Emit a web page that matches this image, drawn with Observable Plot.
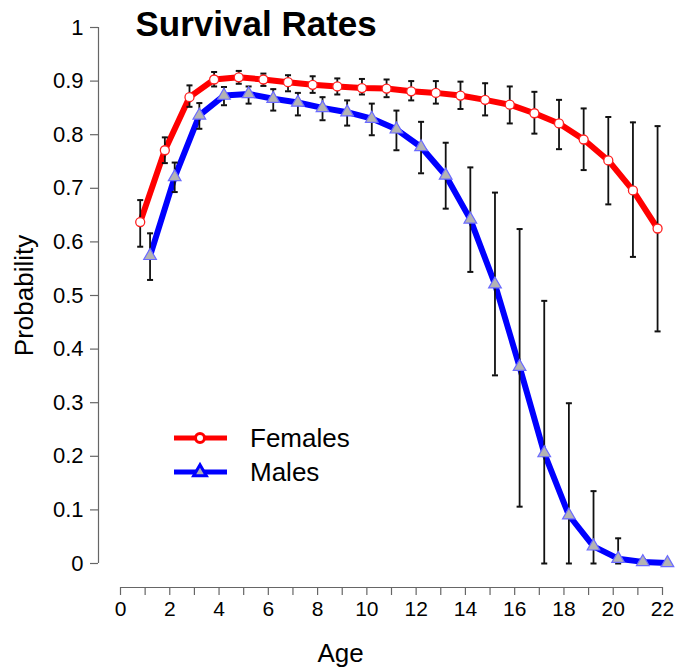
<!DOCTYPE html>
<html>
<head>
<meta charset="utf-8">
<script src="https://cdn.jsdelivr.net/npm/d3@7"></script>
<script src="https://cdn.jsdelivr.net/npm/@observablehq/plot@0.6"></script>
<style>
  html, body { margin: 0; padding: 0; background: #fff; }
  #chart svg { display: block; font-family: "Liberation Sans", Arial, sans-serif; }
</style>
</head>
<body>
<div id="chart"></div>
<script>
// ---- Data ----
const ages = [1,2,3,4,5,6,7,8,9,10,11,12,13,14,15,16,17,18,19,20,21,22];
const female   = [0.637,0.771,0.870,0.903,0.907,0.903,0.898,0.893,0.890,0.887,0.886,0.881,0.878,0.873,0.865,0.856,0.840,0.821,0.791,0.752,0.696,0.625];
const femaleLo = [0.591,0.747,0.852,0.890,0.895,0.891,0.881,0.878,0.875,0.875,0.870,0.864,0.858,0.848,0.836,0.821,0.802,0.773,0.734,0.670,0.572,0.433];
const femaleHi = [0.678,0.795,0.892,0.917,0.919,0.914,0.911,0.909,0.905,0.904,0.903,0.900,0.900,0.899,0.896,0.890,0.880,0.865,0.849,0.833,0.823,0.816];
const male     = [0.574,0.721,0.836,0.873,0.876,0.867,0.860,0.850,0.842,0.830,0.810,0.777,0.724,0.642,0.521,0.367,0.206,0.090,0.032,0.009,0.003,0.001];
const maleLo   = [0.529,0.693,0.811,0.855,0.858,0.845,0.836,0.827,0.817,0.799,0.771,0.728,0.662,0.544,0.351,0.106,0.000,0.000,0.000,0.000,0.000,0.000];
const maleHi   = [0.616,0.748,0.859,0.889,0.890,0.885,0.878,0.870,0.864,0.858,0.845,0.824,0.785,0.739,0.692,0.624,0.490,0.299,0.135,0.047,0.008,0.003];
const xTicks = [0,1,2,3,4,5,6,7,8,9,10,11,12,13,14,15,16,17,18,19,20,21,22];
const yTicks = [0,0.1,0.2,0.3,0.4,0.5,0.6,0.7,0.8,0.9,1];
const seriesNames = ["Females", "Males"];
const titleText = "Survival Rates";

// side-by-side offset of the two series around each age
const offset = 0.2;
const fData = ages.map((a, i) => ({x: a - offset, y: female[i], lo: femaleLo[i], hi: femaleHi[i]}));
const mData = ages.map((a, i) => ({x: a + offset, y: male[i], lo: maleLo[i], hi: maleHi[i]}));
const allData = fData.concat(mData);

const capSymbol = { draw(ctx, size) { const w = Math.sqrt(size); ctx.moveTo(-w/2, 0); ctx.lineTo(w/2, 0); } };

const FONT = "Liberation Sans, Arial, sans-serif";
const plot = Plot.plot({
  width: 675,
  height: 668,
  marginLeft: 120,
  marginRight: 13,
  marginTop: 27,
  marginBottom: 105,
  style: {fontFamily: FONT, color: "black", background: "white", overflow: "visible"},
  x: {domain: [0, 22]},
  y: {domain: [0, 1]},
  marks: [
    // axes
    Plot.ruleX([0], {y1: 0, y2: 1, dx: -22, stroke: "#666", strokeWidth: 1.2}),
    Plot.axisY({ticks: yTicks, tickFormat: d => d3.format("~g")(d), dx: -22, tickSize: 8, tickPadding: 7, fontSize: 22, stroke: "#666", strokeWidth: 1.2, label: null}),
    Plot.ruleY([0], {x1: 0, x2: 22, dy: 24, stroke: "#666", strokeWidth: 1.2}),
    Plot.axisX({ticks: xTicks, tickFormat: d => d % 2 ? "" : String(d), dy: 24, tickSize: 8, tickPadding: 6, fontSize: 21, stroke: "#666", strokeWidth: 1.2, label: null}),
    Plot.text(["Probability"], {frameAnchor: "left", textAnchor: "middle", dx: -96, rotate: -90, fontSize: 26}),
    Plot.text(["Age"], {frameAnchor: "bottom", textAnchor: "middle", dx: -51, dy: 98, fontSize: 26}),
    Plot.text([titleText], {frameAnchor: "top-left", textAnchor: "start", lineAnchor: "top", dx: 15, dy: -16, fontSize: 35, fontWeight: "bold"}),
    // series lines
    Plot.line(fData, {x: "x", y: "y", stroke: "#ff0000", strokeWidth: 6}),
    Plot.line(mData, {x: "x", y: "y", stroke: "#0000ff", strokeWidth: 6}),
    // error bars
    Plot.ruleX(allData, {x: "x", y1: "lo", y2: "hi", stroke: "#111", strokeWidth: 1.8}),
    Plot.dot(allData, {x: "x", y: "lo", symbol: capSymbol, r: 3.4, stroke: "#111", strokeWidth: 2, fill: "none"}),
    Plot.dot(allData, {x: "x", y: "hi", symbol: capSymbol, r: 3.4, stroke: "#111", strokeWidth: 2, fill: "none"}),
    // points
    Plot.dot(fData, {x: "x", y: "y", symbol: "circle", r: 4.5, fill: "white", stroke: "#ff2020", strokeWidth: 1.3}),
    Plot.dot(mData, {x: "x", y: "y", symbol: "triangle", r: 4.7, fill: "#b3b3b3", stroke: "#6a6aff", strokeWidth: 1.2})
  ]
});
document.getElementById("chart").appendChild(plot);

// ---- Legend (drawn into the same SVG) ----
const svg = d3.select(plot);
const lg = svg.append("g").attr("font-family", FONT).attr("text-anchor", "start");
const items = [
  {name: seriesNames[0], color: "#ff0000", sym: "circle", fill: "white"},
  {name: seriesNames[1], color: "#0000ff", sym: "triangle", fill: "#b3b3b3"}
];
items.forEach((it, i) => {
  const y = 438 + i * 34;
  lg.append("line").attr("x1", 174).attr("x2", 227).attr("y1", y).attr("y2", y)
    .attr("stroke", it.color).attr("stroke-width", 5);
  if (it.sym === "circle") {
    lg.append("circle").attr("cx", 200).attr("cy", y).attr("r", 4.5)
      .attr("fill", it.fill).attr("stroke", it.color).attr("stroke-width", 3);
  } else {
    lg.append("path").attr("transform", `translate(200,${y})`)
      .attr("d", d3.symbol(d3.symbolTriangle, 70)())
      .attr("fill", it.fill).attr("stroke", it.color).attr("stroke-width", 3);
  }
  lg.append("text").attr("x", 250).attr("y", y).attr("dy", "0.35em")
    .attr("text-anchor", "start").attr("font-size", 26).attr("fill", "black").text(it.name);
});
</script>
</body>
</html>
